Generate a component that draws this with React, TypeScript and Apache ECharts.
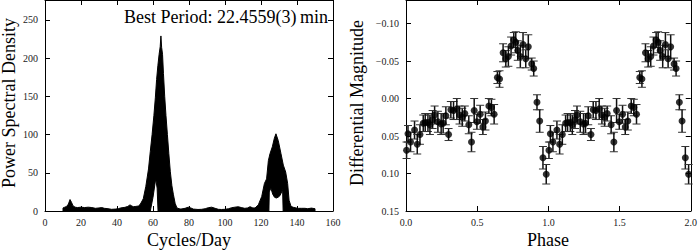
import React, { useEffect, useRef } from "react";
import * as echarts from "echarts";

// Periodogram (left): upper and lower envelopes of the dense power curve
const psdFreqUpper = [
  10, 11, 12, 13, 13.9, 14.8, 15.5, 16.7, 18, 20, 22, 24, 26, 28, 30, 31.5, 33, 35, 37, 39, 40.7, 42, 44.4, 46,
  47.2, 48, 49, 50.5, 51.9, 53, 54.6, 56, 57.5, 58.5, 59.5, 60.5, 61.3, 62, 62.7, 63.4, 64, 64.4, 64.8, 65.3,
  65.8, 66.5, 67.2, 68, 68.8, 69.6, 70.5, 71.3, 72.3, 73.3, 74.5, 75.5, 77.8, 79.6, 81, 82.4, 85, 87, 89, 90.7,
  92.6, 94.5, 96.3, 98, 100, 102, 103.7, 105.5, 107.4, 109, 111, 112.5, 113.9, 115.5, 116.7, 118.5, 120.4, 121.9,
  123.1, 124.1, 125, 126.3, 127.4, 128.3, 129.6, 131.1, 132.4, 133.7, 134.8, 135.6, 136.7, 138, 139.5, 140.7,
  142.5, 144.4, 146, 148, 150,
];
const psdUpper = [
  4, 5, 6, 9, 15, 11, 7, 5, 4.5, 5, 4.5, 5, 4.5, 3.5, 4, 4.5, 3.5, 3, 2.2, 2.5, 3, 4, 4.8, 6,
  8, 7, 5.6, 6, 6.5, 9, 16, 32, 55, 78, 100, 125, 148, 172, 190, 205, 215, 229, 214, 205,
  180, 150, 125, 100, 75, 52, 33, 22, 10, 4, 3, 2.5, 3.5, 5, 4, 2.5, 2, 2.2, 3, 4.3,
  5, 3.5, 2.2, 2, 2.2, 3, 4.3, 5, 5.6, 4.5, 3.5, 4, 5.6, 4, 4, 8, 19, 36,
  42, 66, 75, 84, 95, 101, 92, 75, 60, 51, 36, 14, 6, 4.8, 4, 3.5,
  3.5, 3.5, 3, 3.8, 3,
];
const psdFreqLower = [
  10, 58.5, 60, 61.5, 62.3, 62.8, 124.4, 124.6, 125.5, 126.5, 127.5, 128.5, 129.5, 130.5, 131.5, 132, 132.3, 150,
];
const psdLower = [0, 0, 18, 42, 30, 0, 0, 25, 30, 22, 18, 17, 18, 20, 25, 28, 0, 0];

// Phase-folded light curve (right): one cycle, shown twice
const phaseCycle = [
  0.004, 0.014, 0.032, 0.06, 0.079, 0.098, 0.121, 0.135, 0.154, 0.168, 0.187, 0.201, 0.224, 0.247, 0.261, 0.28,
  0.299, 0.315, 0.334, 0.357, 0.376, 0.395, 0.413, 0.441, 0.46, 0.479, 0.498, 0.521, 0.54, 0.558, 0.582, 0.6,
  0.619, 0.642, 0.657, 0.682, 0.701, 0.719, 0.738, 0.757, 0.771, 0.785, 0.803, 0.822, 0.841, 0.859, 0.883, 0.897,
  0.92, 0.939, 0.962, 0.985,
];
const magCycle = [
  0.069, 0.047, 0.058, 0.042, 0.061, 0.048, 0.033, 0.032, 0.032, 0.035, 0.028, 0.022, 0.031, 0.034, 0.033, 0.023,
  0.048, 0.015, 0.016, 0.014, 0.022, 0.025, 0.02, 0.035, 0.058, 0.016, 0.031, 0.021, 0.038, 0.03, 0.01, 0.012,
  0.021, -0.028, -0.026, -0.061, -0.053, -0.056, -0.07, -0.078, -0.075, -0.064, -0.056, -0.072, -0.053, -0.069, -0.046, -0.04,
  0.005, 0.03, 0.079, 0.101,
];
const magErr = [
  0.011, 0.011, 0.013, 0.012, 0.013, 0.013, 0.011, 0.012, 0.012, 0.013, 0.012, 0.012, 0.014, 0.014, 0.013, 0.012,
  0.008, 0.011, 0.012, 0.014, 0.012, 0.012, 0.01, 0.012, 0.013, 0.016, 0.01, 0.012, 0.01, 0.012, 0.01, 0.011,
  0.013, 0.008, 0.011, 0.012, 0.011, 0.013, 0.012, 0.01, 0.014, 0.013, 0.015, 0.016, 0.012, 0.016, 0.008, 0.01,
  0.01, 0.015, 0.015, 0.013,
];

const psdXTicks = [0, 20, 40, 60, 80, 100, 120, 140, 160];
const psdYTicks = [0, 50, 100, 150, 200, 250];
const phaseTicks = [0, 0.5, 1, 1.5, 2];
const magTicks = [-0.1, -0.05, 0, 0.05, 0.1, 0.15];

const titleText = "Best Period: 22.4559(3)\u2009min";
const FONT = "'Liberation Serif', 'DejaVu Serif', serif";

function axis(
  kind: "x" | "y",
  gridIndex: number,
  min: number,
  max: number,
  ticks: number[],
  position: string,
  showLabel: boolean,
  fmt: (v: number) => string,
  inverse = false
) {
  return {
    type: "value",
    gridIndex,
    min,
    max,
    inverse,
    position,
    axisLine: { show: true, onZero: false, lineStyle: { color: "#000", width: 1 } },
    axisTick: { show: true, inside: true, length: 5, customValues: ticks, lineStyle: { color: "#000", width: 1 } },
    axisLabel: {
      show: showLabel,
      customValues: ticks,
      formatter: fmt,
      fontFamily: FONT,
      fontSize: 10,
      color: "#222",
      margin: kind === "x" ? 6 : 7,
    },
    splitLine: { show: false },
  };
}

export default function App() {
  const ref = useRef<HTMLDivElement>(null);
  useEffect(() => {
    if (!ref.current) return;
    const chart = echarts.init(ref.current, null, { renderer: "svg" });

    const cycles = [0, 1];
    const ptData: number[][] = [];
    const errData: number[][] = [];
    cycles.forEach((c) => {
      phaseCycle.forEach((p, i) => {
        ptData.push([p + c, magCycle[i]]);
        errData.push([p + c, magCycle[i], magErr[i]]);
      });
    });

    const intFmt = (v: number) => String(Math.round(v));
    const phFmt = (v: number) => v.toFixed(1);
    const magFmt = (v: number) => (v < -1e-9 ? "\u2212" + Math.abs(v).toFixed(2) : Math.abs(v).toFixed(2));

    chart.setOption({
      animation: false,
      backgroundColor: "#fff",
      grid: [
        { left: 45, top: -1, width: 288, height: 212 },
        { left: 406, top: -1, width: 285, height: 212 },
      ],
      xAxis: [
        axis("x", 0, 0, 160, psdXTicks, "bottom", true, intFmt),
        axis("x", 0, 0, 160, psdXTicks, "top", false, intFmt),
        axis("x", 1, 0, 2, phaseTicks, "bottom", true, phFmt),
        axis("x", 1, 0, 2, phaseTicks, "top", false, phFmt),
      ],
      yAxis: [
        axis("y", 0, 0, 276, psdYTicks, "left", true, intFmt),
        axis("y", 0, 0, 276, psdYTicks, "right", false, intFmt),
        axis("y", 1, -0.1314, 0.15, magTicks, "left", true, magFmt, true),
        axis("y", 1, -0.1314, 0.15, magTicks, "right", false, magFmt, true),
      ],
      series: [
        {
          type: "custom",
          xAxisIndex: 0,
          yAxisIndex: 0,
          silent: true,
          data: [[80, 0]],
          renderItem: (_params: any, api: any) => {
            const pts: number[][] = [];
            for (let i = 0; i < psdFreqUpper.length; i++) pts.push(api.coord([psdFreqUpper[i], psdUpper[i]]));
            for (let i = psdFreqLower.length - 1; i >= 0; i--) pts.push(api.coord([psdFreqLower[i], psdLower[i]]));
            return {
              type: "polygon",
              shape: { points: pts },
              style: { fill: "#000", stroke: "#000", lineWidth: 1, lineJoin: "round" },
            };
          },
        },
        {
          type: "custom",
          xAxisIndex: 2,
          yAxisIndex: 2,
          silent: true,
          data: errData,
          encode: { x: 0, y: 1 },
          renderItem: (_params: any, api: any) => {
            const x = api.value(0);
            const y = api.value(1);
            const e = api.value(2);
            const a = api.coord([x, y - e]);
            const b = api.coord([x, y + e]);
            const cw = 4;
            return {
              type: "group",
              children: [
                { type: "line", shape: { x1: a[0], y1: a[1], x2: b[0], y2: b[1] }, style: { stroke: "#111", lineWidth: 1.5 } },
                { type: "line", shape: { x1: a[0] - cw, y1: a[1], x2: a[0] + cw, y2: a[1] }, style: { stroke: "#333", lineWidth: 1 } },
                { type: "line", shape: { x1: b[0] - cw, y1: b[1], x2: b[0] + cw, y2: b[1] }, style: { stroke: "#333", lineWidth: 1 } },
              ],
            };
          },
        },
        {
          type: "scatter",
          xAxisIndex: 2,
          yAxisIndex: 2,
          silent: true,
          symbol: "circle",
          symbolSize: 7,
          itemStyle: { color: "#000" },
          data: ptData,
          z: 3,
        },
      ],
      graphic: [
        {
          type: "text",
          x: 328,
          y: 17,
          style: { text: titleText, font: `18px ${FONT}`, fill: "#000", align: "right", verticalAlign: "middle" },
        },
        {
          type: "text",
          x: 189,
          y: 240,
          style: { text: "Cycles/Day", font: `18px ${FONT}`, fill: "#000", align: "center", verticalAlign: "middle" },
        },
        {
          type: "text",
          x: 548,
          y: 240,
          style: { text: "Phase", font: `18px ${FONT}`, fill: "#000", align: "center", verticalAlign: "middle" },
        },
        {
          type: "text",
          x: 9,
          y: 103,
          rotation: Math.PI / 2,
          style: { text: "Power Spectral Density", font: `18px ${FONT}`, fill: "#000", align: "center", verticalAlign: "middle" },
        },
        {
          type: "text",
          x: 357,
          y: 103,
          rotation: Math.PI / 2,
          style: { text: "Differential Magnitude", font: `18px ${FONT}`, fill: "#000", align: "center", verticalAlign: "middle" },
        },
      ],
    });
    return () => chart.dispose();
  }, []);
  return <div ref={ref} style={{ position: "fixed", left: 0, top: 0, width: 700, height: 250 }} />;
}
